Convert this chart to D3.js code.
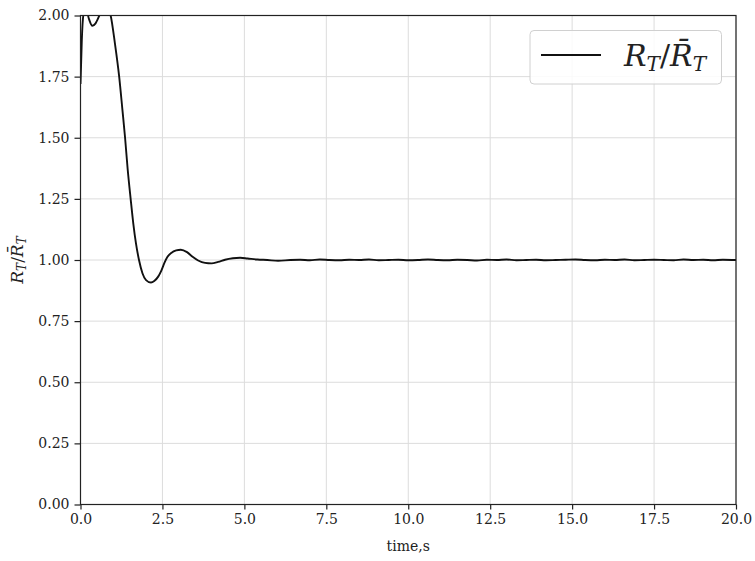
<!DOCTYPE html>
<html>
<head>
<meta charset="utf-8">
<script src="https://cdn.jsdelivr.net/npm/d3@7"></script>
<style>
  body { margin: 0; background: #fff; }
</style>
</head>
<body>
<svg id="canvas" width="755" height="561"></svg>
<script>
// time (s) and normalised ratio R_T / mean R_T
const times = [
  0, 0.04, 0.1, 0.18, 0.26, 0.36, 0.46, 0.56, 0.66, 0.78, 0.92, 1.05, 1.18, 1.28, 1.36, 1.44,
  1.53, 1.61, 1.69, 1.785, 1.89, 2.0, 2.15, 2.25, 2.37, 2.47, 2.56, 2.65, 2.78, 2.92, 3.06, 3.25, 3.42, 3.59,
  3.8, 4.0, 4.2, 4.41, 4.65, 4.87, 5.1, 5.4, 5.7, 6.03, 6.4,
  6.7, 7.0, 7.3, 7.6, 7.9, 8.2, 8.5, 8.8, 9.1, 9.4, 9.7, 10.0, 10.3, 10.6, 10.9, 11.2, 11.5,
  11.8, 12.1, 12.4, 12.7, 13.0, 13.3, 13.6, 13.9, 14.2, 14.5, 14.8, 15.1, 15.4, 15.7, 16.0,
  16.3, 16.6, 16.9, 17.2, 17.5, 17.8, 18.1, 18.4, 18.7, 19.0, 19.3, 19.6, 20.0
]
const ratio = [
  1.72, 1.90, 2.01, 2.02, 1.985, 1.958, 1.968, 1.995, 2.03, 2.04, 2.0, 1.886, 1.75, 1.613, 1.50, 1.37,
  1.25, 1.15, 1.07, 1.0, 0.946, 0.918, 0.908, 0.914, 0.932, 0.958, 0.988, 1.012, 1.03, 1.039, 1.042, 1.032, 1.013, 0.998,
  0.988, 0.986, 0.992, 1.001, 1.007, 1.009, 1.006, 1.002, 1.0, 0.997, 1.0,
  1.001, 0.999, 1.002, 1.0, 0.999, 1.001, 1.0, 1.002, 0.999, 1.0, 1.001, 0.999, 1.0, 1.002, 1.0, 0.999,
  1.001, 1.0, 0.998, 1.001, 1.0, 1.002, 0.999, 1.0, 1.001, 0.999, 1.0, 1.001, 1.002, 1.0, 0.999,
  1.001, 1.0, 1.002, 0.999, 1.0, 1.001, 1.0, 0.999, 1.002, 1.0, 1.001, 0.999, 1.001, 1.0
]
const xTicks = [0, 2.5, 5, 7.5, 10, 12.5, 15, 17.5, 20]
const yTicks = [0, 0.25, 0.5, 0.75, 1.0, 1.25, 1.5, 1.75, 2.0]

const serif = '"DejaVu Serif", serif'

let svg = d3.select('#canvas')
let pLeft = 80.5, pRight = 736, pTop = 15.5, pBottom = 504.5

let x = d3.scaleLinear().domain([0, 20]).range([pLeft, pRight])
let y = d3.scaleLinear().domain([0, 2]).range([pBottom, pTop])

// grid
svg.append('g').selectAll('line').data(xTicks).enter().append('line')
  .attr('x1', d => x(d)).attr('x2', d => x(d)).attr('y1', pTop).attr('y2', pBottom)
  .attr('stroke', '#dcdcdc').attr('stroke-width', 1)
svg.append('g').selectAll('line').data(yTicks).enter().append('line')
  .attr('x1', pLeft).attr('x2', pRight).attr('y1', d => y(d)).attr('y2', d => y(d))
  .attr('stroke', '#dcdcdc').attr('stroke-width', 1)

// curve
svg.append('clipPath').attr('id', 'clip').append('rect')
  .attr('x', pLeft).attr('y', pTop).attr('width', pRight - pLeft).attr('height', pBottom - pTop)

let pts = times.map((t, i) => [t, ratio[i]])
svg.append('path')
  .datum(pts)
  .attr('clip-path', 'url(#clip)')
  .attr('fill', 'none')
  .attr('stroke', '#111')
  .attr('stroke-width', 1.9)
  .attr('d', d3.line().x(d => x(d[0])).y(d => y(d[1])).curve(d3.curveMonotoneX))

// axes
let xAxis = d3.axisBottom(x).tickValues(xTicks).tickFormat(d3.format('.1f')).tickSize(5).tickPadding(5)
let yAxis = d3.axisLeft(y).tickValues(yTicks).tickFormat(d3.format('.2f')).tickSize(6).tickPadding(5)

let gx = svg.append('g').attr('transform', `translate(0,${pBottom})`).call(xAxis)
let gy = svg.append('g').attr('transform', `translate(${pLeft},0)`).call(yAxis)
;[gx, gy].forEach(g => {
  g.attr('font-family', serif).attr('font-size', 14)
  g.select('.domain').remove()
  g.selectAll('line').attr('stroke', '#222').attr('stroke-width', 1.2)
  g.selectAll('text').attr('fill', '#222')
})

// frame
svg.append('rect')
  .attr('x', pLeft).attr('y', pTop).attr('width', pRight - pLeft).attr('height', pBottom - pTop)
  .attr('fill', 'none').attr('stroke', '#222').attr('stroke-width', 1.2)

// axis labels
svg.append('text')
  .attr('x', (pLeft + pRight) / 2).attr('y', 551)
  .attr('text-anchor', 'middle').attr('font-family', serif).attr('font-size', 14).attr('fill', '#222')
  .text('time,s')

let yl = svg.append('text')
  .attr('transform', `translate(23,${(pTop + pBottom) / 2}) rotate(-90)`)
  .attr('text-anchor', 'middle').attr('font-family', serif).attr('font-size', 17).attr('fill', '#222')
yl.append('tspan').attr('font-style', 'italic').text('R')
yl.append('tspan').attr('font-style', 'italic').attr('font-size', 12).attr('dy', 3).text('T')
yl.append('tspan').attr('dy', -3).text('/')
yl.append('tspan').attr('font-style', 'italic').text('R\u0304')
yl.append('tspan').attr('font-style', 'italic').attr('font-size', 12).attr('dy', 3).text('T')

// legend
let lg = svg.append('g')
lg.append('rect')
  .attr('x', 530).attr('y', 30.5).attr('width', 191.5).attr('height', 53.5).attr('rx', 4)
  .attr('fill', 'rgba(255,255,255,0.85)').attr('stroke', '#d0d0d0').attr('stroke-width', 1)
lg.append('line')
  .attr('x1', 541).attr('x2', 601).attr('y1', 55).attr('y2', 55)
  .attr('stroke', '#111').attr('stroke-width', 1.8)
let lt = lg.append('text').attr('x', 624).attr('y', 66)
  .attr('font-family', serif).attr('font-size', 30).attr('fill', '#222')
lt.append('tspan').attr('font-style', 'italic').text('R')
lt.append('tspan').attr('font-style', 'italic').attr('font-size', 20).attr('dy', 5).text('T')
lt.append('tspan').attr('dy', -5).text('/')
lt.append('tspan').attr('font-style', 'italic').text('R\u0304')
lt.append('tspan').attr('font-style', 'italic').attr('font-size', 20).attr('dy', 5).text('T')
</script>
</body>
</html>
